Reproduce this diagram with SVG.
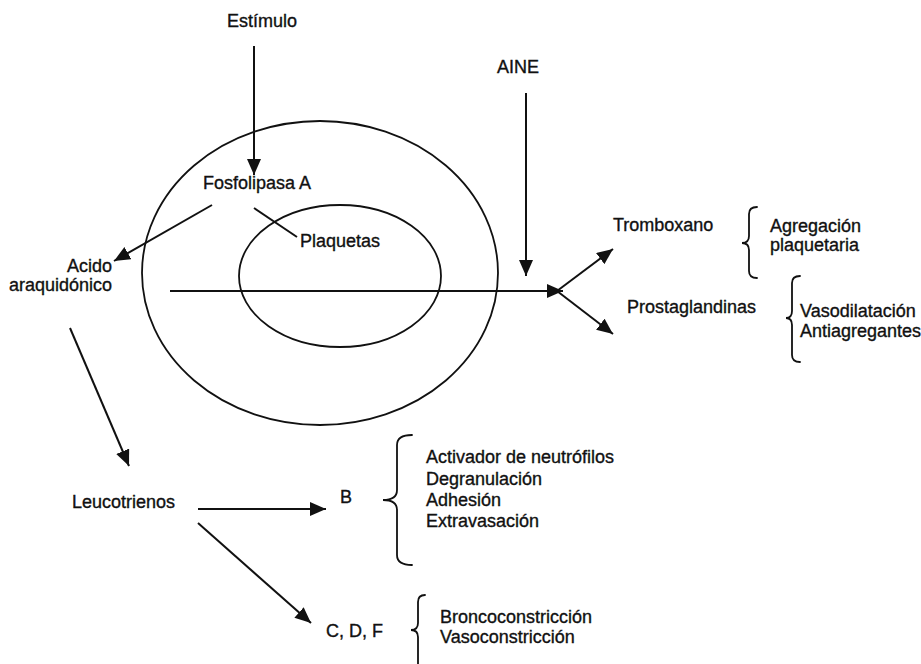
<svg xmlns="http://www.w3.org/2000/svg" width="921" height="664" viewBox="0 0 921 664">
  <style>
    text { font-family: "Liberation Sans", Arial, sans-serif; font-size: 18px; fill: #111; stroke: #111; stroke-width: 0.35; }
    .ring { fill: none; stroke: #111; stroke-width: 1.8; }
    .edge { fill: none; stroke: #111; stroke-width: 2; }
    .brace { fill: none; stroke: #111; stroke-width: 1.8; stroke-linecap: round; }
  </style>
  <defs>
    <marker id="arrow" viewBox="0 0 16 14" refX="16" refY="7" markerWidth="16" markerHeight="14" markerUnits="userSpaceOnUse" orient="auto">
      <path d="M0,0 L16,7 L0,14 Z" fill="#111"/>
    </marker>
  </defs>
  <rect width="921" height="664" fill="#fff"/>

  <!-- cell membranes -->
  <g id="cell">
    <ellipse class="ring" cx="320" cy="273" rx="178" ry="152"/>
    <ellipse class="ring" cx="340" cy="276" rx="101" ry="71"/>
  </g>

  <!-- connectors -->
  <g id="connectors">
    <line class="edge" x1="254" y1="46" x2="254" y2="175" marker-end="url(#arrow)"/>
    <line class="edge" x1="212" y1="205" x2="114" y2="261" marker-end="url(#arrow)"/>
    <line class="edge" x1="254" y1="208" x2="297" y2="237"/>
    <line class="edge" x1="170" y1="291" x2="563" y2="291" marker-end="url(#arrow)"/>
    <line class="edge" x1="526" y1="93" x2="526" y2="276" marker-end="url(#arrow)"/>
    <line class="edge" x1="557" y1="291" x2="613" y2="249" marker-end="url(#arrow)"/>
    <line class="edge" x1="557" y1="291" x2="613" y2="334" marker-end="url(#arrow)"/>
    <line class="edge" x1="70" y1="328" x2="129" y2="466" marker-end="url(#arrow)"/>
    <line class="edge" x1="198" y1="509" x2="326" y2="509" marker-end="url(#arrow)"/>
    <line class="edge" x1="198" y1="523" x2="311" y2="623" marker-end="url(#arrow)"/>
  </g>

  <g id="estimulo"><text x="227" y="27">Estímulo</text></g>
  <g id="fosfolipasa"><text x="203" y="189">Fosfolipasa A</text></g>
  <g id="plaquetas"><text x="300" y="247">Plaquetas</text></g>
  <g id="acido">
    <text x="112" y="272" text-anchor="end">Acido</text>
    <text x="112" y="291" text-anchor="end">araquidónico</text>
  </g>
  <g id="aine"><text x="497" y="73">AINE</text></g>

  <g id="tromboxano">
    <text x="613" y="231">Tromboxano</text>
    <path class="brace" d="M757,207 Q749,207 749,214 L749,236 Q749,243 742,243 Q749,243 749,250 L749,271 Q749,278 757,278"/>
    <text x="770" y="232">Agregación</text>
    <text x="770" y="251">plaquetaria</text>
  </g>

  <g id="prostaglandinas">
    <text x="627" y="313">Prostaglandinas</text>
    <path class="brace" d="M800,276 Q792,276 792,283 L792,311 Q792,318 786,318 Q792,318 792,325 L792,355 Q792,362 800,362"/>
    <text x="800" y="317">Vasodilatación</text>
    <text x="800" y="337">Antiagregantes</text>
  </g>

  <g id="leucotrienos"><text x="72" y="508">Leucotrienos</text></g>

  <g id="leucotrieno-b">
    <text x="340" y="503">B</text>
    <path class="brace" d="M412,435 Q397,435 397,445 L397,490 Q397,500 383,500 Q397,500 397,510 L397,555 Q397,565 412,565"/>
    <text x="426" y="463">Activador de neutrófilos</text>
    <text x="426" y="485">Degranulación</text>
    <text x="426" y="506">Adhesión</text>
    <text x="426" y="527">Extravasación</text>
  </g>

  <g id="leucotrienos-cdf">
    <text x="326" y="637">C, D, F</text>
    <path class="brace" d="M425,595 Q418,595 418,602 L418,623 Q418,630 411,630 Q418,630 418,637 L418,672"/>
    <text x="440" y="623">Broncoconstricción</text>
    <text x="440" y="643">Vasoconstricción</text>
  </g>
</svg>
